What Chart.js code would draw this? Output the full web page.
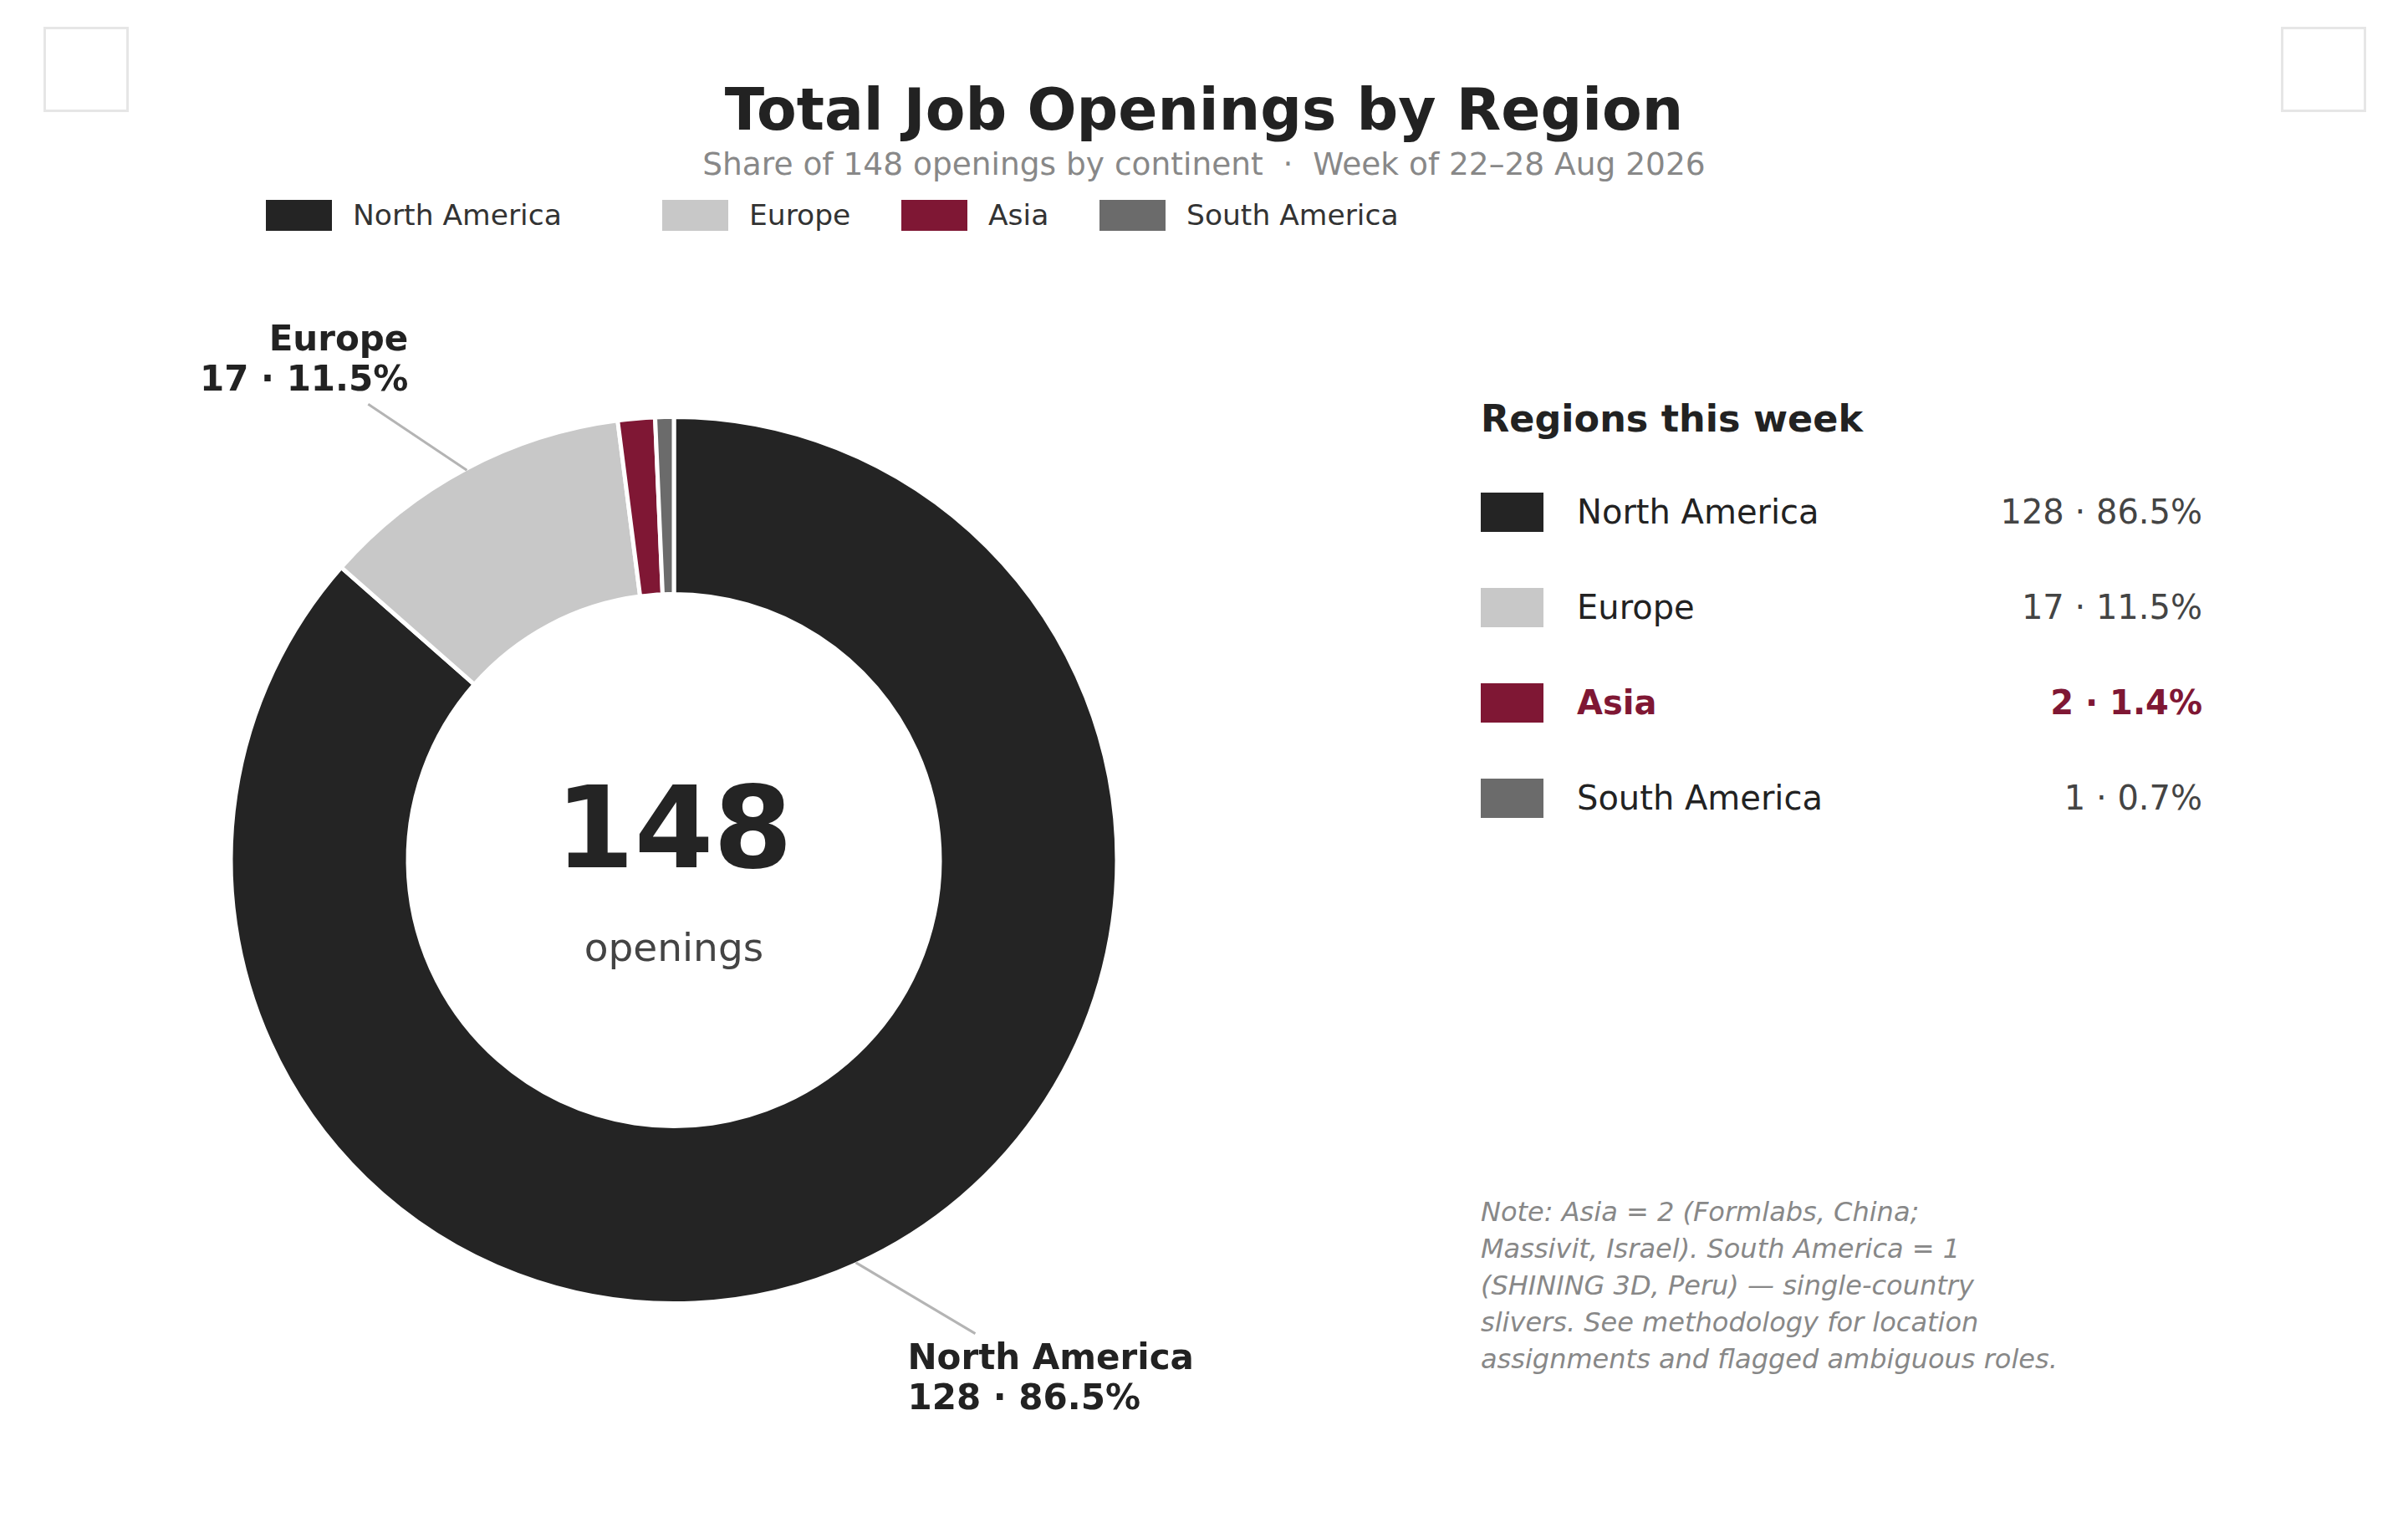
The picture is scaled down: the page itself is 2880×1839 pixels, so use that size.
<!DOCTYPE html>
<html lang="en">
<head>
<meta charset="utf-8">
<title>Total Job Openings by Region</title>
<script src="https://cdn.jsdelivr.net/npm/chart.js@4.4.1/dist/chart.umd.min.js"></script>
<style>
  html, body { margin: 0; padding: 0; background: #fff; }
  body { font-family: "DejaVu Sans", "Noto Sans", sans-serif; color: #222; }
  #page { position: relative; width: 2880px; height: 1839px; overflow: hidden; }
  .abs { position: absolute; white-space: nowrap; line-height: 1; }
  .corner { position: absolute; top: 32px; width: 102px; height: 102px; box-sizing: border-box; border: 3px solid #e6e6e6; }
  #title { left: 0; width: 2880px; text-align: center; top: 96px; font-size: 69.5px; font-weight: bold; color: #222; }
  #subtitle { left: 0; width: 2880px; text-align: center; top: 178px; font-size: 37.5px; color: #888; }
  .lg-box { position: absolute; top: 239px; width: 79px; height: 37px; }
  .lg-text { top: 240px; font-size: 34.5px; color: #333; }
  #chartBox { position: absolute; left: 0; top: 400px; width: 1612px; height: 1257px; }
  .callout { position: absolute; font-size: 42px; font-weight: bold; line-height: 48px; color: #222; white-space: nowrap; }
  .center-txt { position: absolute; width: 600px; text-align: center; line-height: 1; white-space: nowrap; }
  #centerNum { font-size: 136px; font-weight: bold; color: #242424; }
  #centerLbl { font-size: 47px; color: #444; }
  #tableHead { left: 1771px; top: 479px; font-size: 44.5px; font-weight: bold; color: #222; }
  .sw { position: absolute; left: 1771px; width: 75px; height: 47px; }
  .row-name { left: 1886px; font-size: 40px; color: #222; }
  .row-val { right: 246px; font-size: 40px; color: #444; text-align: right; }
  .hl { font-weight: bold; color: #7f1734; }
  #note { position: absolute; left: 1771px; top: 1427px; font-size: 32px; line-height: 44px; font-style: italic; color: #888; white-space: nowrap; }
</style>
</head>
<body>
<div id="page">
  <div class="corner" style="left:52px"></div>
  <div class="corner" style="left:2728px"></div>

  <div id="title" class="abs">Total Job Openings by Region</div>
  <div id="subtitle" class="abs">Share of 148 openings by continent &nbsp;·&nbsp; Week of 22–28 Aug 2026</div>

  <div id="legend"></div>

  <div id="chartBox">
    <canvas id="donut"></canvas>
    <div id="centerNum" class="center-txt">148</div>
    <div id="centerLbl" class="center-txt">openings</div>
  </div>

  <div id="tableHead" class="abs">Regions this week</div>
  <div id="table"></div>

  <div id="note">Note: Asia = 2 (Formlabs, China;<br>Massivit, Israel). South America = 1<br>(SHINING 3D, Peru) — single-country<br>slivers. See methodology for location<br>assignments and flagged ambiguous roles.</div>
</div>

<script>
// data
const regions = ['North America', 'Europe', 'Asia', 'South America'];
const openings = [128, 17, 2, 1];
const regionColors = ['#242424', '#c8c8c8', '#7f1734', '#6b6b6b'];
const highlightRegion = 'Asia';
const calloutRegions = ['North America', 'Europe'];

const total = openings.reduce((a, b) => a + b, 0);
const shareText = v => (v / total * 100).toFixed(1) + '%';

// layout (px)
const legendLeft = [318, 792, 1078, 1315];
const rowTop = 612, rowStep = 114;
const calloutLayout = {
  'North America': { lineDx: 143, lineDy: 85, side: 'left', textDx: 62, textDy: 89 },
  'Europe': { lineDx: -118, lineDy: -79, side: 'right', textDx: -70, textDy: -181 }
};

// top legend
const legend = document.getElementById('legend');
regions.forEach((name, i) => {
  const box = document.createElement('div');
  box.className = 'lg-box';
  box.style.left = legendLeft[i] + 'px';
  box.style.background = regionColors[i];
  legend.appendChild(box);
  const txt = document.createElement('div');
  txt.className = 'abs lg-text';
  txt.style.left = (legendLeft[i] + 104) + 'px';
  txt.textContent = name;
  legend.appendChild(txt);
});

// side table
const table = document.getElementById('table');
regions.forEach((name, i) => {
  const cy = rowTop + i * rowStep;
  const sw = document.createElement('div');
  sw.className = 'sw';
  sw.style.top = (cy - 23.5) + 'px';
  sw.style.background = regionColors[i];
  table.appendChild(sw);

  const hl = name === highlightRegion ? ' hl' : '';
  const lab = document.createElement('div');
  lab.className = 'abs row-name' + hl;
  lab.style.top = (cy - 20) + 'px';
  lab.textContent = name;
  table.appendChild(lab);

  const val = document.createElement('div');
  val.className = 'abs row-val' + hl;
  val.style.top = (cy - 20) + 'px';
  val.textContent = openings[i] + ' · ' + shareText(openings[i]);
  table.appendChild(val);
});

// callout labels (placed by the plugin)
const chartBox = document.getElementById('chartBox');
const calloutDivs = {};
calloutRegions.forEach(name => {
  const i = regions.indexOf(name);
  const d = document.createElement('div');
  d.className = 'callout';
  d.style.textAlign = calloutLayout[name].side === 'right' ? 'right' : 'left';
  d.innerHTML = name + '<br>' + openings[i] + ' · ' + shareText(openings[i]);
  chartBox.appendChild(d);
  calloutDivs[name] = d;
});

const calloutPlugin = {
  id: 'callouts',
  afterDraw(chart) {
    const ctx = chart.ctx;
    const arcs = chart.getDatasetMeta(0).data;
    const W = chart.width;
    calloutRegions.forEach(name => {
      const i = regions.indexOf(name);
      const p = arcs[i].getProps(['x', 'y', 'startAngle', 'endAngle', 'outerRadius'], true);
      const mid = (p.startAngle + p.endAngle) / 2;
      const px = p.x + Math.cos(mid) * (p.outerRadius - 2);
      const py = p.y + Math.sin(mid) * (p.outerRadius - 2);
      const lay = calloutLayout[name];
      ctx.save();
      ctx.strokeStyle = '#b4b4b4';
      ctx.lineWidth = 3;
      ctx.beginPath();
      ctx.moveTo(px, py);
      ctx.lineTo(px + lay.lineDx, py + lay.lineDy);
      ctx.stroke();
      ctx.restore();
      const d = calloutDivs[name];
      d.style.top = (py + lay.textDy) + 'px';
      if (lay.side === 'right') d.style.right = (W - (px + lay.textDx)) + 'px';
      else d.style.left = (px + lay.textDx) + 'px';
    });
    const c = arcs[0].getProps(['x', 'y'], true);
    const num = document.getElementById('centerNum');
    num.style.left = (c.x - 300) + 'px';
    num.style.top = (c.y - 41.5 - 0.481 * 136) + 'px';
    const lbl = document.getElementById('centerLbl');
    lbl.style.left = (c.x - 300) + 'px';
    lbl.style.top = (c.y + 107.5 - 0.573 * 47) + 'px';
  }
};

new Chart(document.getElementById('donut'), {
  type: 'doughnut',
  data: {
    labels: regions,
    datasets: [{
      data: openings,
      backgroundColor: regionColors,
      borderColor: '#ffffff',
      borderWidth: 5
    }]
  },
  options: {
    responsive: true,
    maintainAspectRatio: false,
    animation: false,
    events: [],
    radius: 530,
    cutout: '60%',
    layout: { padding: 0 },
    plugins: {
      legend: { display: false },
      tooltip: { enabled: false }
    }
  },
  plugins: [calloutPlugin]
});
</script>
</body>
</html>
